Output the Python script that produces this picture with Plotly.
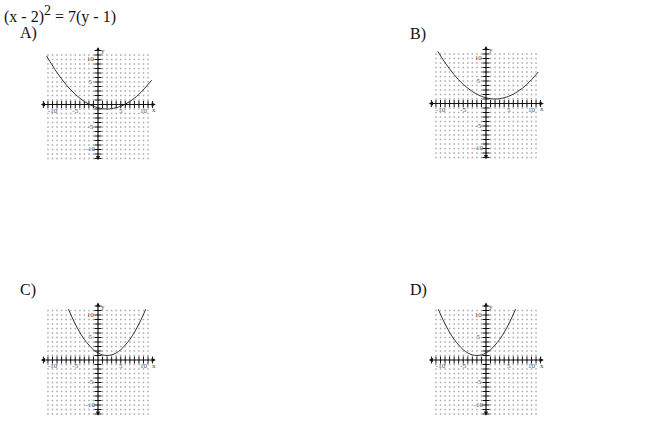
import numpy as np
import plotly.graph_objects as go

# ---------------- data ----------------
title_text = "(x - 2)<sup><span style='font-size:14px'>2</span></sup> = 7(y - 1)"
option_labels = ["A)", "B)", "C)", "D)"]

curve_x_A = [-11.3, -9, -7, -5, -3, -1, 1, 2, 3, 5, 7, 9, 11.8]
curve_y_A = [10.8, 7.07, 4.4, 2.27, 0.67, -0.4, -0.93, -1, -0.93, -0.4, 0.67, 2.27, 5.4]

curve_x_B = [-10.6, -9, -7, -5, -3, -1, 1, 2, 3, 5, 7, 9, 11.5]
curve_y_B = [11.6, 9.07, 6.4, 4.27, 2.67, 1.6, 1.07, 1, 1.07, 1.6, 2.67, 4.27, 7.0]

curve_x_C = [-6.5, -5, -3, -1, 0, 1, 2, 3, 4, 5, 7, 9, 10.5]
curve_y_C = [11.3, 8.0, 4.57, 2.29, 1.57, 1.14, 1, 1.14, 1.57, 2.29, 4.57, 8.0, 11.3]

curve_x_D = [-10.5, -9, -7, -5, -4, -3, -2, -1, 0, 1, 3, 5, 6.5]
curve_y_D = [11.3, 8.0, 4.57, 2.29, 1.57, 1.14, 1, 1.14, 1.57, 2.29, 4.57, 8.0, 11.3]

curves_x = [curve_x_A, curve_x_B, curve_x_C, curve_x_D]
curves_y = [curve_y_A, curve_y_B, curve_y_C, curve_y_D]

tick_values = [-10, -5, 5, 10]
tick_labels = ["-10", "-5", "5", "10"]
grid_x = list(range(-11, 12))
grid_y = list(range(-12, 12))
axis_ticks = [v for v in range(-12, 13) if v != 0]

# ---------------- layout geometry ----------------
W, H = 650, 432
PX_X, PX_Y = 4.55, 4.5
XR = [-14, 14]
YR = [-14, 14]
panel_origins = [(98, 104.5), (486, 103.5), (98, 360), (486, 360)]
label_pos = [(18, 33), (408, 34), (18, 290), (408, 290)]
AX_X = [-12.9, 12.7]
AX_Y = [-12.7, 12.8]


def px_x(p):
    return p / W


def px_y(p):
    return 1 - p / H


fig = go.Figure()
layout = dict(
    width=W, height=H, margin=dict(l=0, r=0, t=0, b=0),
    paper_bgcolor="white", plot_bgcolor="rgba(0,0,0,0)",
    showlegend=False,
)
annotations = []

gx, gy = np.meshgrid(grid_x, grid_y)
gx = gx.ravel(); gy = gy.ravel()

for i, (ox, oy) in enumerate(panel_origins):
    n = "" if i == 0 else str(i + 1)
    xa, ya = "x" + n, "y" + n
    xd = [px_x(ox + XR[0] * PX_X), px_x(ox + XR[1] * PX_X)]
    yd = [px_y(oy - YR[0] * PX_Y), px_y(oy - YR[1] * PX_Y)]
    layout["xaxis" + n] = dict(domain=xd, range=XR, visible=False, fixedrange=True, anchor=ya)
    layout["yaxis" + n] = dict(domain=yd, range=YR, visible=False, fixedrange=True, anchor=xa)

    # dotted grid
    fig.add_trace(go.Scatter(x=gx, y=gy, mode="markers", xaxis=xa, yaxis=ya,
                             marker=dict(symbol="square", size=1.5, color="#a8a8a8"),
                             hoverinfo="skip"))
    # axis tick marks
    fig.add_trace(go.Scatter(x=axis_ticks, y=[0] * len(axis_ticks), mode="markers",
                             xaxis=xa, yaxis=ya, hoverinfo="skip",
                             marker=dict(symbol="line-ns", size=5,
                                         line=dict(width=1, color="#111"))))
    fig.add_trace(go.Scatter(x=[0] * len(axis_ticks), y=axis_ticks, mode="markers",
                             xaxis=xa, yaxis=ya, hoverinfo="skip",
                             marker=dict(symbol="line-ew", size=5,
                                         line=dict(width=1, color="#111"))))
    # curve
    fig.add_trace(go.Scatter(x=curves_x[i], y=curves_y[i], mode="lines",
                             xaxis=xa, yaxis=ya, line=dict(color="#333", width=1, shape="spline"),
                             hoverinfo="skip"))
    # tick labels
    fig.add_trace(go.Scatter(x=tick_values, y=[-1.4] * len(tick_values), mode="text",
                             text=tick_labels, xaxis=xa, yaxis=ya, hoverinfo="skip",
                             textfont=dict(family="Liberation Serif", size=7, color="#555")))
    fig.add_trace(go.Scatter(x=[-1.7] * len(tick_values), y=tick_values, mode="text",
                             text=tick_labels, xaxis=xa, yaxis=ya, hoverinfo="skip",
                             textfont=dict(family="Liberation Serif", size=7, color="#555")))
    # axes with arrows
    annotations.append(dict(x=AX_X[1], y=0, ax=AX_X[0], ay=0, xref=xa, yref=ya,
                            axref=xa, ayref=ya, text="", showarrow=True,
                            arrowhead=2, arrowside="end+start", arrowsize=0.7,
                            arrowwidth=1.2, arrowcolor="#111"))
    annotations.append(dict(x=0, y=AX_Y[1], ax=0, ay=AX_Y[0], xref=xa, yref=ya,
                            axref=xa, ayref=ya, text="", showarrow=True,
                            arrowhead=2, arrowside="end+start", arrowsize=0.7,
                            arrowwidth=1.2, arrowcolor="#111"))
    annotations.append(dict(x=12.4, y=-1.3, xref=xa, yref=ya, text="x", showarrow=False,
                            font=dict(family="Liberation Serif", size=7, color="#444")))
    annotations.append(dict(x=1.2, y=11.8, xref=xa, yref=ya, text="y", showarrow=False,
                            font=dict(family="Liberation Serif", size=7, color="#444")))
    # option label
    lx, ly = label_pos[i]
    annotations.append(dict(x=px_x(lx), y=px_y(ly), xref="paper", yref="paper",
                            text=option_labels[i], showarrow=False, xanchor="left",
                            yanchor="middle",
                            font=dict(family="Liberation Serif", size=16, color="#111")))

annotations.append(dict(x=px_x(2), y=px_y(14), xref="paper", yref="paper", text=title_text,
                        showarrow=False, xanchor="left", yanchor="middle",
                        font=dict(family="Liberation Serif", size=16, color="#111")))
layout["annotations"] = annotations
fig.update_layout(**layout)
fig.write_html(
    "out.html",
    config={"displayModeBar": False, "staticPlot": True},
    post_script="document.body.style.margin='0';document.body.style.overflow='hidden';",
)
